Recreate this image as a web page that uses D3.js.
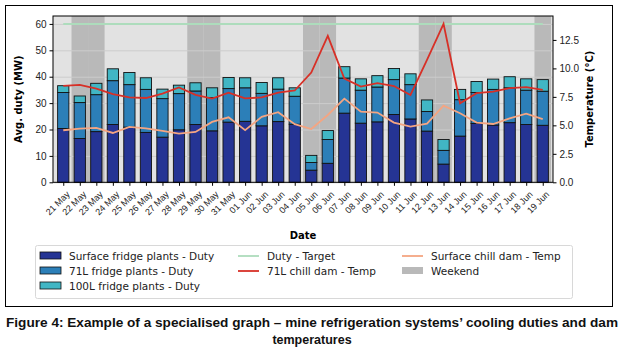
<!DOCTYPE html>
<html>
<head>
<meta charset="utf-8">
<script src="https://cdnjs.cloudflare.com/ajax/libs/d3/7.8.5/d3.min.js"></script>
<style>
  body { margin: 0; background: #fff; }
  svg { display: block; font-family: "DejaVu Sans", Verdana, sans-serif; }
</style>
</head>
<body>
<svg id="chart" width="625" height="350"></svg>
<script>
// dates (x categories)
var dates = ["21 May", "22 May", "23 May", "24 May", "25 May", "26 May", "27 May", "28 May",
    "29 May", "30 May", "31 May", "01 Jun", "02 Jun", "03 Jun", "04 Jun", "05 Jun", "06 Jun",
    "07 Jun", "08 Jun", "09 Jun", "10 Jun", "11 Jun", "12 Jun", "13 Jun", "14 Jun", "15 Jun",
    "16 Jun", "17 Jun", "18 Jun", "19 Jun"];

// duty per plant (MW), stacked
var surfaceDuty = [20.4, 16.6, 19.2, 21.9, 20.9, 18.9, 17.1, 19.9, 21.9, 19.5, 22.8, 23.1, 21.4, 23.0, 22.0,
    4.6, 7.2, 26.2, 22.4, 22.9, 25.7, 24.0, 19.4, 6.9, 17.5, 22.3, 21.7, 22.6, 21.9, 21.6];
var duty71L = [13.6, 13.6, 14.0, 16.6, 16.1, 16.3, 14.6, 13.7, 12.7, 12.6, 12.7, 12.7, 12.3, 12.3, 10.6,
    2.9, 9.0, 13.3, 12.5, 13.2, 13.2, 13.0, 7.4, 5.2, 13.8, 11.7, 13.5, 13.2, 13.0, 12.9];
var duty100L = [2.6, 2.5, 4.3, 4.5, 4.6, 4.4, 3.6, 3.2, 3.1, 3.7, 4.2, 3.8, 4.1, 4.3, 3.2,
    2.7, 3.4, 4.3, 4.3, 4.3, 4.2, 4.1, 4.4, 4.1, 3.9, 4.2, 3.9, 4.2, 4.3, 4.4];

var dutyTarget = 60;

// dam temperatures (deg C)
var temp71L = [8.46, 8.56, 8.22, 7.75, 7.45, 7.40, 7.79, 8.33, 7.68, 7.35, 7.86, 7.37, 7.45, 7.87, 8.06,
    9.63, 12.86, 9.10, 8.40, 8.70, 8.45, 7.67, 10.75, 13.91, 6.94, 7.82, 7.96, 8.26, 8.35, 8.11];
var tempSurface = [4.57, 4.71, 4.77, 4.33, 4.86, 4.74, 4.51, 4.27, 4.42, 5.3, 5.71, 4.58, 5.74, 6.15, 5.1,
    4.68, 5.91, 7.35, 6.2, 6.12, 5.24, 4.89, 5.15, 6.73, 6.06, 5.24, 5.12, 5.62, 6.03, 5.54];

var weekend = [0, 1, 1, 0, 0, 0, 0, 0, 1, 1, 0, 0, 0, 0, 0, 1, 1, 0, 0, 0, 0, 0, 1, 1, 0, 0, 0, 0, 0, 1];

var dutyTicks = [0, 10, 20, 30, 40, 50, 60];
var tempTicks = [0, 2.5, 5, 7.5, 10, 12.5];

var colors = {
    surface: "#253494",
    l71: "#2c7fb8",
    l100: "#41b6c4",
    target: "#addcbc",
    temp71: "#d73027",
    tempSurf: "#f4a582",
    weekend: "#b9b9b9",
    bg: "#e2e2e2"
};

var svg = d3.select("#chart");

var plot = {left: 53, right: 553, top: 16, bottom: 182.3};

var x = d3.scaleLinear().domain([-0.62, dates.length - 1 + 0.62]).range([plot.left, plot.right]),
    yDuty = d3.scaleLinear().domain([0, 63]).range([plot.bottom, plot.top]),
    yTemp = d3.scaleLinear().domain([0, 14.6]).range([plot.bottom, plot.top]);

// outer frame
svg.append("rect")
    .attr("x", 5.5).attr("y", 5.5)
    .attr("width", 607).attr("height", 301)
    .attr("fill", "none").attr("stroke", "#000").attr("stroke-width", 1);

// plot background
svg.append("rect")
    .attr("x", plot.left).attr("y", plot.top)
    .attr("width", plot.right - plot.left).attr("height", plot.bottom - plot.top)
    .attr("fill", colors.bg);

// weekend shading
svg.append("g").selectAll("rect")
    .data(weekend.map(function(w, i) { return {w: w, i: i}; }).filter(function(d) { return d.w; }))
    .enter().append("rect")
    .attr("x", function(d) { return Math.max(plot.left, x(d.i - 0.5)); })
    .attr("width", function(d) { return Math.min(plot.right, x(d.i + 0.5)) - Math.max(plot.left, x(d.i - 0.5)); })
    .attr("y", plot.top)
    .attr("height", plot.bottom - plot.top)
    .attr("fill", colors.weekend);

// gridlines
svg.append("g")
    .attr("transform", "translate(" + plot.left + ",0)")
    .call(d3.axisLeft(yDuty).tickValues(dutyTicks).tickSize(-(plot.right - plot.left)).tickFormat(""))
    .call(function(g) {
        g.select(".domain").remove();
        g.selectAll("line").attr("stroke", "#cdcdcd").attr("stroke-width", 1);
    });

// stacked bars
var layers = [
    {name: "surface", vals: surfaceDuty, color: colors.surface},
    {name: "l71", vals: duty71L, color: colors.l71},
    {name: "l100", vals: duty100L, color: colors.l100}
];
var base = dates.map(function() { return 0; });
var barW = x(0.68) - x(0);
layers.forEach(function(layer) {
    var rows = layer.vals.map(function(v, i) { return {i: i, y0: base[i], y1: base[i] + v}; });
    svg.append("g").selectAll("rect")
        .data(rows)
        .enter().append("rect")
        .attr("x", function(d) { return x(d.i) - barW / 2; })
        .attr("width", barW)
        .attr("y", function(d) { return yDuty(d.y1); })
        .attr("height", function(d) { return yDuty(d.y0) - yDuty(d.y1); })
        .attr("fill", layer.color)
        .attr("stroke", "#111")
        .attr("stroke-width", 0.9);
    rows.forEach(function(d) { base[d.i] = d.y1; });
});

// target line
svg.append("line")
    .attr("x1", x(0)).attr("x2", x(dates.length - 1))
    .attr("y1", yDuty(dutyTarget)).attr("y2", yDuty(dutyTarget))
    .attr("stroke", colors.target).attr("stroke-width", 2);

// temperature lines
var tempLine = d3.line()
    .x(function(d, i) { return x(i); })
    .y(function(d) { return yTemp(d); });

svg.append("path")
    .datum(temp71L)
    .attr("d", tempLine)
    .attr("fill", "none").attr("stroke", colors.temp71).attr("stroke-width", 1.8);

svg.append("path")
    .datum(tempSurface)
    .attr("d", tempLine)
    .attr("fill", "none").attr("stroke", colors.tempSurf).attr("stroke-width", 1.8);

// plot frame
svg.append("rect")
    .attr("x", plot.left).attr("y", plot.top)
    .attr("width", plot.right - plot.left).attr("height", plot.bottom - plot.top)
    .attr("fill", "none").attr("stroke", "#000").attr("stroke-width", 1);

// axes
var xAxis = svg.append("g")
    .attr("transform", "translate(0," + plot.bottom + ")")
    .call(d3.axisBottom(x).tickValues(d3.range(dates.length)).tickFormat(function(i) { return dates[i]; }).tickSize(3.5));
xAxis.select(".domain").remove();
xAxis.selectAll("text")
    .attr("font-size", 9)
    .attr("fill", "#222")
    .attr("text-anchor", "end")
    .attr("dx", "0")
    .attr("dy", "0")
    .attr("transform", "translate(2,8) rotate(-45)");

var yAxisL = svg.append("g")
    .attr("transform", "translate(" + plot.left + ",0)")
    .call(d3.axisLeft(yDuty).tickValues(dutyTicks).tickSize(3.5).tickPadding(3));
yAxisL.select(".domain").remove();
yAxisL.selectAll("text").attr("font-size", 10).attr("fill", "#222");

var yAxisR = svg.append("g")
    .attr("transform", "translate(" + plot.right + ",0)")
    .call(d3.axisRight(yTemp).tickValues(tempTicks).tickFormat(d3.format(".1f")).tickSize(3.5).tickPadding(3));
yAxisR.select(".domain").remove();
yAxisR.selectAll("text").attr("font-size", 10).attr("fill", "#222");

// axis labels
svg.append("text")
    .attr("x", (plot.left + plot.right) / 2).attr("y", 239)
    .attr("text-anchor", "middle")
    .attr("font-size", 10).attr("font-weight", "bold")
    .text("Date");

svg.append("text")
    .attr("transform", "translate(22," + (plot.top + plot.bottom) / 2 + ") rotate(-90)")
    .attr("text-anchor", "middle")
    .attr("font-size", 10).attr("font-weight", "bold")
    .text("Avg. duty (MW)");

svg.append("text")
    .attr("transform", "translate(593," + (plot.top + plot.bottom) / 2 + ") rotate(-90)")
    .attr("text-anchor", "middle")
    .attr("font-size", 10).attr("font-weight", "bold")
    .text("Temperature (°C)");

// legend
var legend = svg.append("g");
legend.append("rect")
    .attr("x", 35.5).attr("y", 245.5).attr("width", 537).attr("height", 53)
    .attr("rx", 2)
    .attr("fill", "#fff").attr("stroke", "#d8d8d8");

var legendItems = [
    {label: "Surface fridge plants - Duty", type: "patch", color: colors.surface, col: 0, row: 0},
    {label: "71L fridge plants - Duty", type: "patch", color: colors.l71, col: 0, row: 1},
    {label: "100L fridge plants - Duty", type: "patch", color: colors.l100, col: 0, row: 2},
    {label: "Duty - Target", type: "line", color: colors.target, col: 1, row: 0},
    {label: "71L chill dam - Temp", type: "line", color: colors.temp71, col: 1, row: 1},
    {label: "Surface chill dam - Temp", type: "line", color: colors.tempSurf, col: 2, row: 0},
    {label: "Weekend", type: "weekend", color: colors.weekend, col: 2, row: 1}
];
var colX = [40, 238, 402],
    rowY = [256, 271, 286];

legendItems.forEach(function(it) {
    var gx = colX[it.col], gy = rowY[it.row];
    if (it.type === "patch") {
        legend.append("rect")
            .attr("x", gx).attr("y", gy - 4).attr("width", 21).attr("height", 7)
            .attr("fill", it.color).attr("stroke", "#111").attr("stroke-width", 0.8);
    } else if (it.type === "weekend") {
        legend.append("rect")
            .attr("x", gx).attr("y", gy - 4).attr("width", 21).attr("height", 7)
            .attr("fill", it.color);
    } else {
        legend.append("line")
            .attr("x1", gx).attr("x2", gx + 21).attr("y1", gy).attr("y2", gy)
            .attr("stroke", it.color).attr("stroke-width", 1.8);
    }
    legend.append("text")
        .attr("x", gx + 29).attr("y", gy + 3.8)
        .attr("font-size", 10.5).attr("fill", "#222")
        .text(it.label);
});

// caption
var caption = svg.append("g")
    .attr("font-family", "'Liberation Sans', Arial, sans-serif")
    .attr("font-weight", "bold").attr("font-size", 12.5).attr("fill", "#111");
caption.append("text").attr("x", 6).attr("y", 327)
    .attr("textLength", 612).attr("lengthAdjust", "spacingAndGlyphs")
    .text("Figure 4: Example of a specialised graph \u2013 mine refrigeration systems\u2019 cooling duties and dam");
caption.append("text").attr("x", 312).attr("y", 344)
    .attr("text-anchor", "middle")
    .text("temperatures");
</script>
</body>
</html>
